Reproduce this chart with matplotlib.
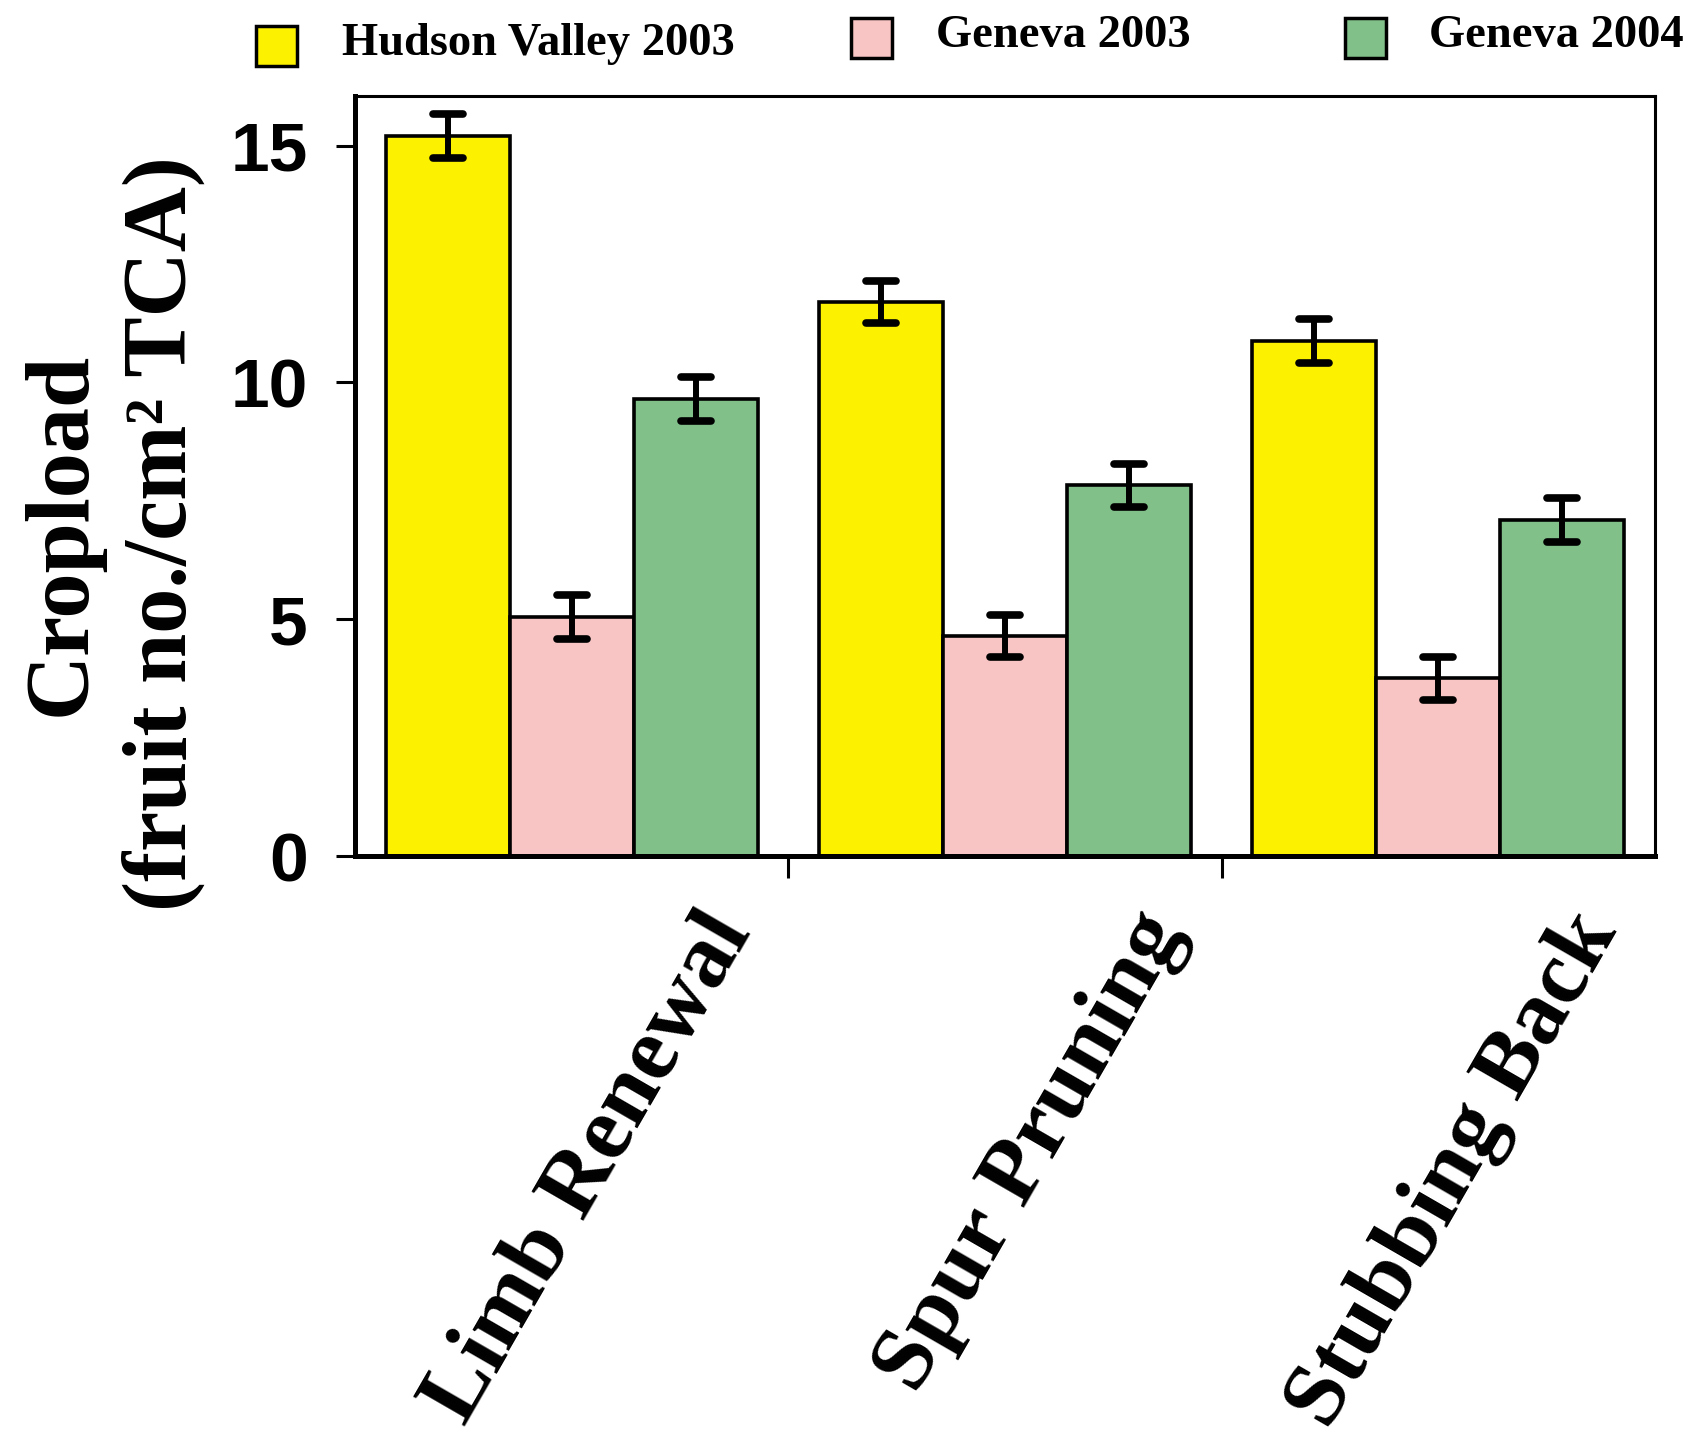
import matplotlib
matplotlib.use("Agg")
import matplotlib.pyplot as plt
import numpy as np
from matplotlib.patches import Rectangle
from matplotlib.markers import MarkerStyle
import matplotlib.transforms as mtransforms

# ---- data ----
categories = ["Limb Renewal", "Spur Pruning", "Stubbing Back"]
series_names = ["Hudson Valley 2003", "Geneva 2003", "Geneva 2004"]
hudson_2003 = [15.2, 11.7, 10.88]
geneva_2003 = [5.05, 4.65, 3.75]
geneva_2004 = [9.65, 7.83, 7.1]
hudson_2003_err = [0.46, 0.45, 0.46]
geneva_2003_err = [0.46, 0.45, 0.46]
geneva_2004_err = [0.46, 0.45, 0.46]
yticks = [0, 5, 10, 15]

colors = ["#FCF200", "#F8C4C4", "#82C08A"]

W, H = 1691, 1445
fig = plt.figure(figsize=(W / 100, H / 100), dpi=100)

def fx(px):
    return px / W

def fy(py):
    return 1 - py / H

ax_left, ax_right, ax_top, ax_bottom = 355, 1655, 96, 856
ax = fig.add_axes([fx(ax_left), fy(ax_bottom), fx(ax_right - ax_left), (ax_bottom - ax_top) / H])

x = np.arange(len(categories))
bw = 0.286
series = [hudson_2003, geneva_2003, geneva_2004]
errs = [hudson_2003_err, geneva_2003_err, geneva_2004_err]
for k, (vals, err, col) in enumerate(zip(series, errs, colors)):
    pos = x + (k - 1) * bw
    ax.bar(pos, vals, width=bw, color=col, edgecolor="black", linewidth=2.6, zorder=2)
    _, caps, bars = ax.errorbar(pos, vals, yerr=err, fmt="none", ecolor="black",
                                elinewidth=4.3, capsize=11, capthick=5.5, zorder=3)
    for c in caps:
        c.set_marker(MarkerStyle("_", capstyle="round"))
    for b in bars:
        b.set_capstyle("round")

ax.set_xlim(-0.5, 2.5)
ax.set_ylim(0, 16.05)

ax.set_yticks(yticks)
ax.set_yticklabels([str(v) for v in yticks], fontfamily="Liberation Sans",
                   fontweight="bold", fontsize=50)
ax.tick_params(axis="y", direction="out", length=14, width=2.2, pad=20)

ax.set_xticks([0.5, 1.5])
ax.set_xticklabels([])
ax.tick_params(axis="x", direction="out", length=16, width=2.2)

for s in ["left", "bottom"]:
    ax.spines[s].set_linewidth(3.6)
for s in ["top", "right"]:
    ax.spines[s].set_linewidth(2.2)

# category labels
trans = mtransforms.blended_transform_factory(ax.transData, ax.transAxes)
for i, cat in enumerate(categories):
    ax.text(i + 0.414, -0.099, cat, transform=trans, rotation=60,
            rotation_mode="anchor", ha="right", va="baseline",
            fontfamily="Liberation Serif", fontweight="bold", fontsize=66,
            clip_on=False)

# y label (two lines)
fig.text(fx(85), fy(534), "Cropload", rotation=90, rotation_mode="anchor",
         ha="center", va="baseline", fontfamily="Liberation Serif",
         fontweight="bold", fontsize=65)
fig.text(fx(186), fy(534), "(fruit no./cm\u00b2 TCA)", rotation=90, rotation_mode="anchor",
         ha="center", va="baseline", fontfamily="Liberation Serif",
         fontweight="bold", fontsize=65)

# legend
legend_items = [
    (256, 26, 342, 55),
    (851, 18, 936, 47),
    (1345, 18, 1429, 47),
]
for (bx, by, tx, ty), name, col in zip(legend_items, series_names, colors):
    fig.patches.append(Rectangle((fx(bx), fy(by + 40)), 41 / W, 40 / H,
                                 transform=fig.transFigure, facecolor=col,
                                 edgecolor="black", linewidth=2.5))
    fig.text(fx(tx), fy(ty), name, ha="left", va="baseline",
             fontfamily="Liberation Serif", fontweight="bold", fontsize=33.5)

fig.savefig("out.png", dpi=100)
